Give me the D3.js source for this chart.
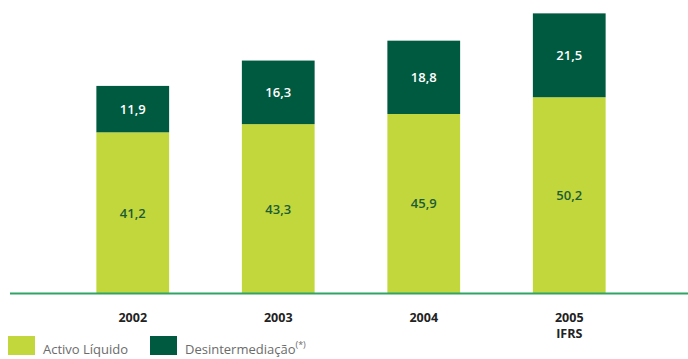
<!DOCTYPE html>
<html>
<head>
<meta charset="utf-8">
<script src="https://cdn.jsdelivr.net/npm/d3@7"></script>
<style>
  html, body { margin: 0; padding: 0; background: #fff; }
  svg { display: block; font-family: "Open Sans", "Noto Sans", sans-serif; }
</style>
</head>
<body>
<svg id="chart" width="688" height="359"></svg>
<script>
// Years shown on the x axis (second line used for the IFRS note)
const years = ["2002", "2003", "2004", "2005"];
const yearNotes = ["", "", "", "IFRS"];
// Stacked series values
const activoLiquido = [41.2, 43.3, 45.9, 50.2];
const desintermediacao = [11.9, 16.3, 18.8, 21.5];
const seriesNames = ["Activo Líquido", "Desintermediação"];

const colors = { light: "#c1d73b", dark: "#005a3f", axis: "#2fa465" };

const svg = d3.select("#chart");
const baseY = 293;

const x = d3.scaleBand()
  .domain(years)
  .range([60, 642])
  .paddingInner(0.5)
  .paddingOuter(0.25);

const y = d3.scaleLinear()
  .domain([0, 72])
  .range([baseY, baseY - 72 * 3.9]);

const rows = years.map((yr, i) => ({
  year: yr,
  note: yearNotes[i],
  a: activoLiquido[i],
  d: desintermediacao[i]
}));

const stack = d3.stack().keys(["a", "d"]);
const layers = stack(rows);
const fills = [colors.light, colors.dark];
const labelColors = ["#1d5c36", "#ffffff"];

layers.forEach((layer, li) => {
  const g = svg.append("g");
  g.selectAll("rect")
    .data(layer)
    .join("rect")
    .attr("x", d => x(d.data.year))
    .attr("width", x.bandwidth())
    .attr("y", d => y(d[1]))
    .attr("height", d => y(d[0]) - y(d[1]))
    .attr("fill", fills[li]);
  g.selectAll("text")
    .data(layer)
    .join("text")
    .attr("x", d => x(d.data.year) + x.bandwidth() / 2)
    .attr("y", d => (y(d[0]) + y(d[1])) / 2 + 5)
    .attr("text-anchor", "middle")
    .attr("font-size", 13)
    .attr("font-weight", 600)
    .attr("fill", labelColors[li])
    .text(d => d3.format(".1f")(d[1] - d[0]).replace(".", ","));
});

// Baseline
svg.append("line")
  .attr("x1", 10).attr("x2", 688)
  .attr("y1", baseY + 0.5).attr("y2", baseY + 0.5)
  .attr("stroke", colors.axis)
  .attr("stroke-width", 2);

// Year labels
const xl = svg.append("g");
xl.selectAll("text.year")
  .data(rows)
  .join("text")
  .attr("class", "year")
  .attr("x", d => x(d.year) + x.bandwidth() / 2)
  .attr("y", 322)
  .attr("text-anchor", "middle")
  .attr("font-size", 12.5)
  .attr("font-weight", 700)
  .attr("fill", "#222")
  .text(d => d.year);
xl.selectAll("text.note")
  .data(rows.filter(d => d.note))
  .join("text")
  .attr("class", "note")
  .attr("x", d => x(d.year) + x.bandwidth() / 2)
  .attr("y", 338)
  .attr("text-anchor", "middle")
  .attr("font-size", 12.5)
  .attr("font-weight", 700)
  .attr("fill", "#222")
  .text(d => d.note);

// Legend
const legendX = [8, 150];
const legend = svg.append("g");
seriesNames.forEach((name, i) => {
  legend.append("rect")
    .attr("x", legendX[i]).attr("y", 336)
    .attr("width", 27).attr("height", 19)
    .attr("fill", fills[i]);
  const t = legend.append("text")
    .attr("x", legendX[i] + 35).attr("y", 354)
    .attr("font-size", 13)
    .attr("fill", "#6b6b6b")
    .text(name);
  if (i === 1) {
    t.append("tspan")
      .attr("dy", -6)
      .attr("font-size", 9)
      .text("(*)");
  }
});
</script>
</body>
</html>
